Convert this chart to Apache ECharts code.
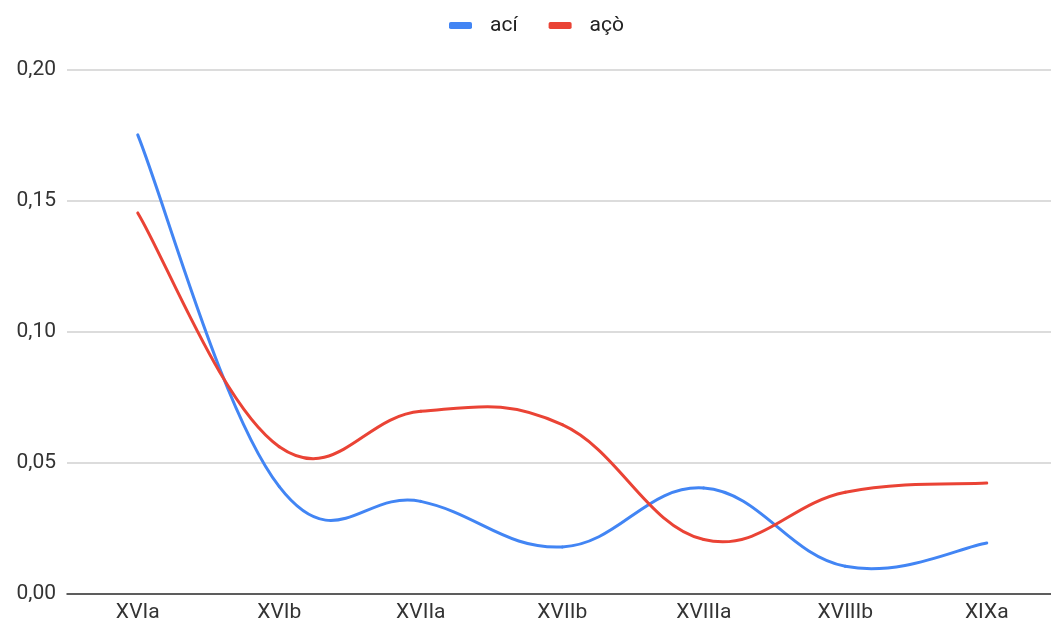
<!DOCTYPE html>
<html>
<head>
<meta charset="utf-8">
<script src="https://cdn.jsdelivr.net/npm/echarts@6/dist/echarts.min.js"></script>
<style>
  html, body { margin: 0; padding: 0; background: #fff; }
  #chart { width: 1051px; height: 628px; }
</style>
</head>
<body>
<div id="chart"></div>
<script>
// Periods along the x axis
const periods = ['XVIa', 'XVIb', 'XVIIa', 'XVIIb', 'XVIIIa', 'XVIIIb', 'XIXa'];
// Relative frequency of each form per period
const aciValues = [0.1752, 0.0408, 0.0352, 0.0178, 0.0403, 0.0104, 0.0193];
const acoValues = [0.1454, 0.0561, 0.0696, 0.0645, 0.0206, 0.0387, 0.0422];
const seriesNames = ['ací', 'açò'];
const yTicks = [0, 0.05, 0.10, 0.15, 0.20];

const fontFamily = 'Roboto, "Liberation Sans", sans-serif';
const TENSION = 0.2; // control-point factor of the cardinal spline

// A smooth curve through the points: each data item draws the cubic segment
// from its own point to the next one, with cardinal-spline tangents.
function curveSeries(name, values, color) {
  return {
    name: name,
    type: 'custom',
    coordinateSystem: 'cartesian2d',
    data: values.map((v, i) => [i, v]),
    encode: { x: 0, y: 1 },
    itemStyle: { color: color },
    renderItem: function (params, api) {
      const i = params.dataIndex;
      const n = values.length;
      if (i >= n - 1) return { type: 'group', children: [] };
      const clampIdx = k => Math.min(Math.max(k, 0), n - 1);
      const pt = k => api.coord([clampIdx(k), values[clampIdx(k)]]);
      const p0 = pt(i - 1), p1 = pt(i), p2 = pt(i + 1), p3 = pt(i + 2);
      return {
        type: 'bezierCurve',
        shape: {
          x1: p1[0], y1: p1[1],
          cpx1: p1[0] + (p2[0] - p0[0]) * TENSION,
          cpy1: p1[1] + (p2[1] - p0[1]) * TENSION,
          cpx2: p2[0] - (p3[0] - p1[0]) * TENSION,
          cpy2: p2[1] - (p3[1] - p1[1]) * TENSION,
          x2: p2[0], y2: p2[1]
        },
        style: { fill: null, stroke: color, lineWidth: 3, lineCap: 'round' }
      };
    }
  };
}

const chart = echarts.init(document.getElementById('chart'), null, { renderer: 'canvas' });

chart.setOption({
  animation: false,
  color: ['#4285F4', '#EA4335'],
  textStyle: { fontFamily: fontFamily },
  legend: {
    top: 10,
    left: 444,
    itemWidth: 23,
    itemHeight: 7,
    itemGap: 31,
    icon: 'roundRect',
    textStyle: { fontSize: 21, color: '#222', fontFamily: fontFamily, padding: [0, 0, 0, 13] },
    data: seriesNames
  },
  grid: { left: 67, right: 0, top: 70, bottom: 34.5, containLabel: false },
  xAxis: {
    // Period index axis; half a slot of padding before the first period
    type: 'value',
    min: -0.5,
    max: 6.454,
    axisLine: { lineStyle: { color: '#333', width: 1.5 } },
    axisTick: { show: false },
    axisLabel: {
      fontSize: 21, color: '#333', margin: 9, fontFamily: fontFamily,
      customValues: periods.map((p, i) => i),
      formatter: v => periods[Math.round(v)] || ''
    },
    splitLine: { show: false }
  },
  yAxis: {
    type: 'value',
    min: yTicks[0],
    max: yTicks[yTicks.length - 1],
    interval: 0.05,
    axisLine: { show: false },
    axisTick: { show: false },
    axisLabel: {
      fontSize: 21, color: '#333', margin: 11, fontFamily: fontFamily,
      formatter: v => v.toFixed(2).replace('.', ',')
    },
    splitLine: { lineStyle: { color: '#d0d0d0', width: 1.5 } }
  },
  series: [
    curveSeries(seriesNames[0], aciValues, '#4285F4'),
    curveSeries(seriesNames[1], acoValues, '#EA4335')
  ]
});
</script>
</body>
</html>
